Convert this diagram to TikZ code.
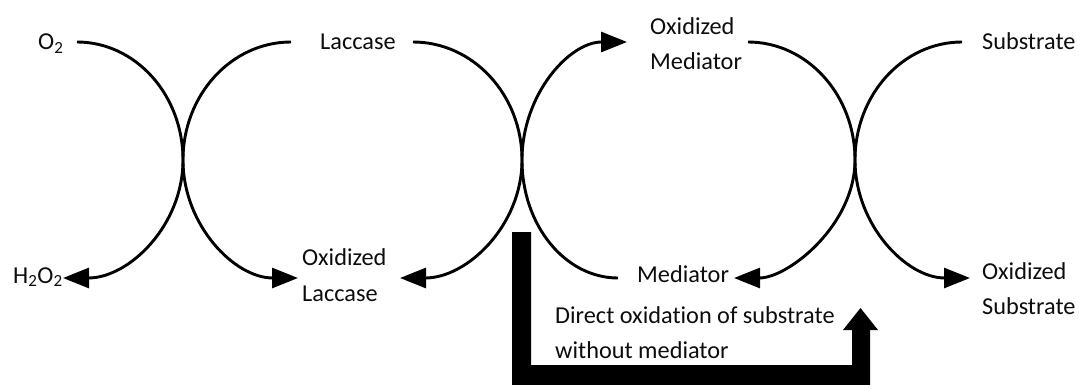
\documentclass[tikz,border=0pt]{standalone}
\usepackage{fontspec}
\setmainfont{Carlito}[Ligatures=NoCommon]
\usetikzlibrary{arrows.meta}
\begin{document}
\begin{tikzpicture}[x=1pt,y=-1pt,
  lbl/.style={anchor=base west,inner sep=0pt,font=\fontsize{24.3}{30}\selectfont,text=black!95},
  flow/.style={line width=2.9pt,black},
  tipflow/.style={flow,-{Triangle[length=26pt,width=20pt]}},
  bigarrow/.style={fill=black}]
\useasboundingbox (0,0) rectangle (1079,385);

% text nodes
\node[lbl] (o2)     at (38,50)   {O\textsubscript{2}};
\node[lbl] (lac)    at (320,50)  {Laccase};
\node[lbl] (oxmedA) at (650,35)  {Oxidized};
\node[lbl] (oxmedB) at (650,70)  {Mediator};
\node[lbl] (subs)   at (982,50)  {Substrate};
\node[lbl] (h2o2)   at (13,283)  {H\textsubscript{2}O\textsubscript{2}};
\node[lbl] (oxlacA) at (302,265) {Oxidized};
\node[lbl] (oxlacB) at (302,301) {Laccase};
\node[lbl] (med)    at (637,282) {Mediator};
\node[lbl] (dirA)   at (555,323) {Direct oxidation of substrate};
\node[lbl] (dirB)   at (555,358) {without mediator};
\node[lbl] (oxsubA) at (982,279) {Oxidized};
\node[lbl] (oxsubB) at (982,314) {Substrate};

% connector end points
\coordinate (a0) at (77,42);   \coordinate (a1) at (63,278);
\coordinate (b0) at (291,42);  \coordinate (b1) at (298,278);
\coordinate (c0) at (413,42);  \coordinate (c1) at (400,278);
\coordinate (d0) at (618,278); \coordinate (d1) at (627,42);
\coordinate (e0) at (748,42);  \coordinate (e1) at (734,278);
\coordinate (f0) at (962,42);  \coordinate (f1) at (970,278);
\coordinate (x1) at (183,160);
\coordinate (x2) at (522,160);
\coordinate (x3) at (855,160);

% first pair
\draw[tipflow] (a0) .. controls (135.5,42) and (183,94.8) .. (x1)
                    .. controls (183,225.2) and (129.3,278) .. (a1);
\draw[tipflow] (b0) .. controls (231.4,42) and (183,94.8) .. (x1)
                    .. controls (183,225.2) and (234.5,278) .. (b1);
% second pair
\draw[tipflow] (c0) .. controls (473.2,42) and (522,94.8) .. (x2)
                    .. controls (522,225.2) and (467.4,278) .. (c1);
\draw[tipflow] (d0) .. controls (565,278) and (522,225.2) .. (x2)
                    .. controls (522,94.8) and (569,42) .. (d1);
% third pair
\draw[tipflow] (e0) .. controls (807.1,42) and (855,94.8) .. (x3)
                    .. controls (855,225.2) and (788.2,278) .. (e1);
\draw[tipflow] (f0) .. controls (902.9,42) and (855,94.8) .. (x3)
                    .. controls (855,225.2) and (906.5,278) .. (f1);

% direct oxidation L-arrow
\coordinate (ls) at (512,232);
\coordinate (lt) at (860.5,308);
\fill[bigarrow] (ls) -- ++(19,0) |- (852,365) -- (852,330) -- (843,330)
   -- (lt) -- (878,330) -- (870,330) |- (512,385) -- cycle;
\end{tikzpicture}
\end{document}
